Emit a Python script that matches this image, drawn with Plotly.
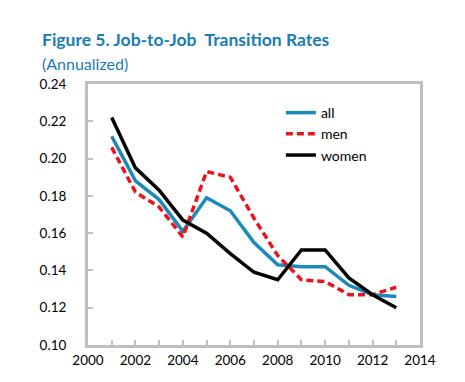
import plotly.graph_objects as go

years = [2001, 2002, 2003, 2004, 2005, 2006, 2007, 2008, 2009, 2010, 2011, 2012, 2013]
all_rate = [0.212, 0.188, 0.178, 0.161, 0.179, 0.172, 0.155, 0.143, 0.142, 0.142, 0.132, 0.127, 0.126]
men_rate = [0.206, 0.182, 0.174, 0.158, 0.193, 0.190, 0.168, 0.148, 0.135, 0.134, 0.127, 0.127, 0.131]
women_rate = [0.222, 0.195, 0.183, 0.167, 0.160, 0.149, 0.139, 0.135, 0.151, 0.151, 0.136, 0.127, 0.120]

x_ticks = [2000, 2002, 2004, 2006, 2008, 2010, 2012, 2014]
y_ticks = [0.10, 0.12, 0.14, 0.16, 0.18, 0.20, 0.22, 0.24]

FONT = "Lato"
fig = go.Figure()
fig.add_trace(go.Scatter(x=years, y=all_rate, name="all", mode="lines",
                         line=dict(color="#1a8ab8", width=3.5)))
fig.add_trace(go.Scatter(x=years, y=men_rate, name="men", mode="lines",
                         line=dict(color="#e8141c", width=3.5, dash="7px,4px")))
fig.add_trace(go.Scatter(x=years, y=women_rate, name="women", mode="lines",
                         line=dict(color="#000000", width=3.5)))

axis_common = dict(showgrid=False, zeroline=False, showline=True, linecolor="#bfbfbf",
                   linewidth=3, mirror=True, ticks="inside", tickcolor="#bfbfbf",
                   tickwidth=2, ticklen=5, tickfont=dict(family=FONT, size=13.5, color="#000"))

fig.update_xaxes(range=[2000, 2014], tickvals=x_ticks, ticktext=[str(v) for v in x_ticks],
                 minor=dict(dtick=1, tick0=2000, ticks="inside", ticklen=5, tickwidth=2,
                            tickcolor="#bfbfbf"),
                 ticklabelstandoff=1, **axis_common)
fig.update_yaxes(range=[0.10, 0.24], tickvals=y_ticks, ticktext=[f"{v:.2f}" for v in y_ticks],
                 ticklabelstandoff=16, **axis_common)

fig.update_layout(
    width=465, height=382,
    margin=dict(l=80, r=53, t=76, b=45),
    plot_bgcolor="white", paper_bgcolor="white",
    font=dict(family=FONT, size=13, color="#000"),
    showlegend=True,
    legend=dict(x=0.581, y=0.95, xanchor="left", yanchor="top",
                bgcolor="rgba(0,0,0,0)", font=dict(family=FONT, size=14),
                tracegroupgap=0, itemwidth=30),
    annotations=[
        dict(text="<b>Figure 5. Job-to-Job  Transition Rates</b>", xref="paper", yref="paper",
             x=-48/332, y=(337-31)/261, xanchor="left", yanchor="middle", showarrow=False,
             font=dict(family=FONT, size=17.5, color="#1a7db5")),
        dict(text="(Annualized)", xref="paper", yref="paper",
             x=-48/332, y=(337-55)/261, xanchor="left", yanchor="middle", showarrow=False,
             font=dict(family=FONT, size=16, color="#1a7db5")),
    ],
)

fig.write_html("out.html")
